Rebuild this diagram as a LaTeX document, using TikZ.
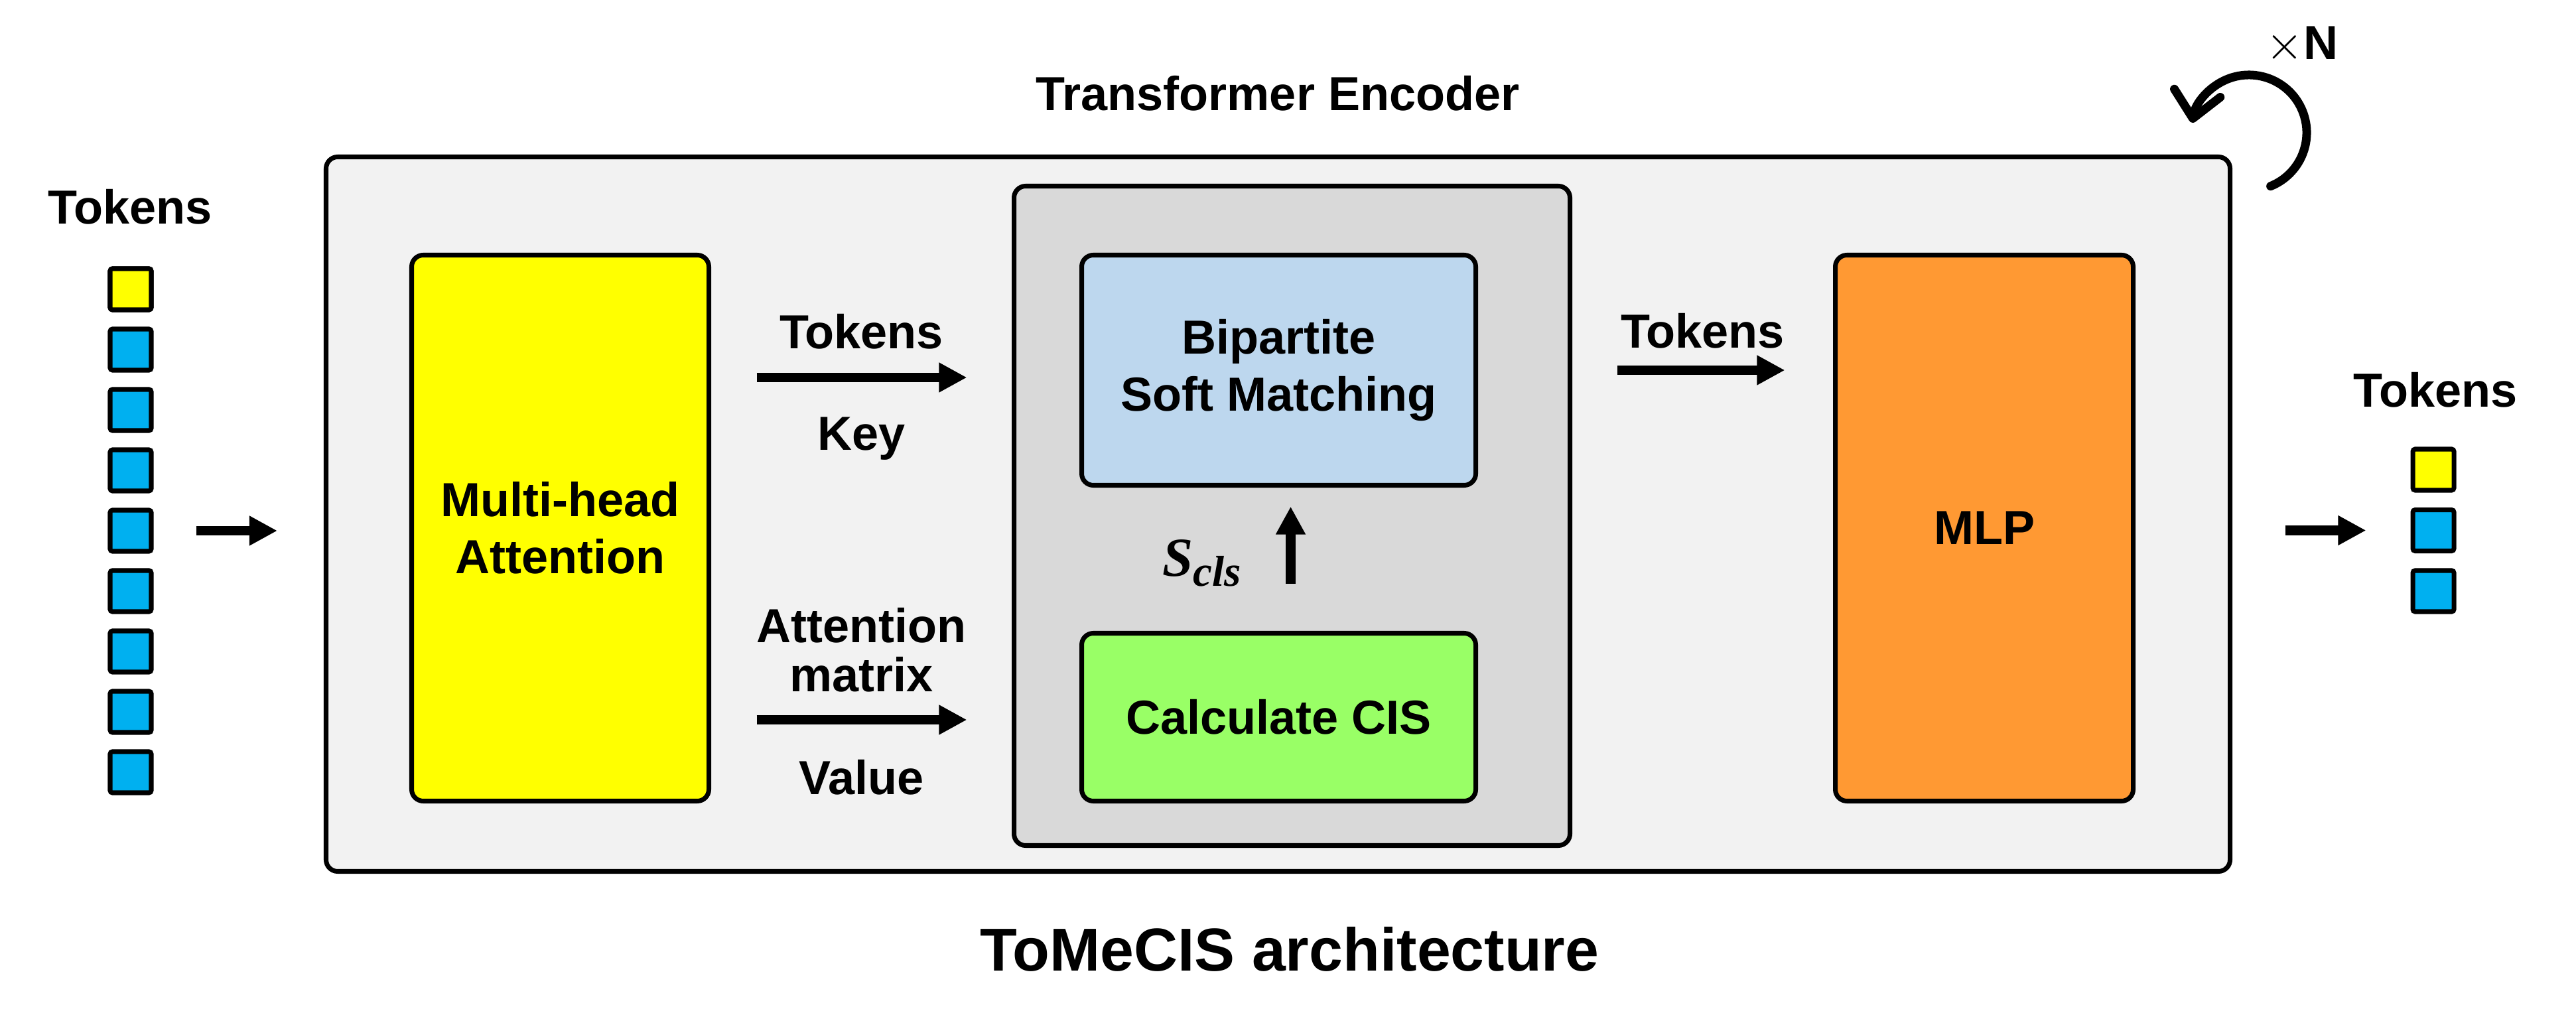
\documentclass[tikz,border=0pt]{standalone}
\usepackage{fontspec}
\setmainfont{Liberation Sans}
\newfontfamily\symbfont{Liberation Serif}
\usepackage{tikz}
\usetikzlibrary{arrows.meta,positioning,calc}
\definecolor{encfill}{HTML}{F2F2F2}
\definecolor{mergefill}{HTML}{D9D9D9}
\definecolor{attnfill}{HTML}{FFFF00}
\definecolor{matchfill}{HTML}{BDD7EE}
\definecolor{cisfill}{HTML}{99FF66}
\definecolor{mlpfill}{HTML}{FF9933}
\definecolor{tokfill}{HTML}{00B0F0}

\begin{document}
\begin{tikzpicture}[>={Triangle[length=12pt,width=12pt]},
  txt/.style={font=\fontsize{20.5}{24.6}\selectfont\bfseries,align=center},
  lbl/.style={txt,inner sep=0pt},
  blk/.style={draw=black,line width=2pt,rounded corners=5pt,txt,inner sep=0pt},
  tok/.style={draw=black,line width=2pt,rounded corners=1pt,minimum size=6.2mm,inner sep=0pt},
  arr/.style={->,line width=4pt}]
 \useasboundingbox (0,0) rectangle (38.83,15.38);
 % encoder frame and its blocks
 \node[blk,fill=encfill,minimum width=28.70cm,minimum height=10.77cm] (enc) at (19.265,7.63) {};
 \node[txt] at (19.26,13.97) {Transformer Encoder};
 \node[blk,fill=attnfill,minimum width=4.48cm,minimum height=8.23cm] (mha) at (8.445,7.42) {Multi-head\\Attention};
 \node[blk,fill=mergefill,minimum width=8.38cm,minimum height=9.94cm] (merge) at (19.475,7.605) {};
 \node[blk,fill=matchfill,minimum width=5.94cm,minimum height=3.47cm] (bsm) at (19.275,9.80) {Bipartite\\Soft Matching};
 \node[blk,fill=cisfill,minimum width=5.94cm,minimum height=2.53cm] (cis) at (19.275,4.57) {Calculate CIS};
 \node[blk,fill=mlpfill,minimum width=4.49cm,minimum height=8.23cm] (mlp) at (29.91,7.42) {MLP};
 % input and output tokens
 \node[txt] at (1.96,12.26) {Tokens};
 \foreach \i in {1,...,9} {
  \node[tok,fill=tokfill] (t\i) at (1.97,{11.02-0.91*(\i-1)}) {};
 }
 \node[tok,fill=attnfill] at (t1) {};
 \node[txt] at (36.71,9.50) {Tokens};
 \node[tok,fill=attnfill] (o1) at (36.68,8.30) {};
 \node[tok,fill=tokfill] (o2) at (36.68,7.385) {};
 \node[tok,fill=tokfill] (o3) at (36.68,6.47) {};
 % connectors
 \draw[arr,shorten <=6.4mm,shorten >=7mm] (t5.east) -- (enc.west |- t5);
 \draw[arr,shorten <=6.85mm,shorten >=6.75mm] ($(mha.east |- bsm.west)+(0,-0.11)$) --
   node[lbl,above=3.6mm]{Tokens} node[lbl,below=5.3mm]{Key} ($(merge.west |- bsm.west)+(0,-0.11)$);
 \draw[arr,shorten <=6.85mm,shorten >=6.75mm] ($(mha.east |- cis.west)+(0,-0.04)$) --
   node[lbl,above=3.5mm,font=\fontsize{20.5}{21}\selectfont\bfseries]{Attention\\matrix} node[lbl,below=5.3mm]{Value} ($(merge.west |- cis.west)+(0,-0.04)$);
 \draw[arr,shorten <=6.75mm,shorten >=7.25mm] (merge.east |- bsm.east) --
   node[lbl,above=2.6mm]{Tokens} (mlp.west |- bsm.east);
 \draw[arr,shorten <=7.05mm,shorten >=2.85mm] ($(cis.north)+(0.18,0)$) -- ($(bsm.south)+(0.18,0)$);
 \node[font=\symbfont\bfseries\itshape\fontsize{23.6}{28}\selectfont] (scls) at (18.12,6.89)
   {S\raisebox{-4.3pt}{\fontsize{18.5}{22}\selectfont cls}};
 \draw[arr,shorten <=7.95mm,shorten >=6.7mm] (enc.east |- o2) -- (o2.west);
 % repeat loop
 \coordinate (loop) at (33.90,13.38);
 \draw[line width=3.7pt,line cap=round,-{Straight Barb[length=11pt,width=20pt,round]}]
   ([shift={(-68:0.87)}]loop) arc[start angle=-68,end angle=170,radius=0.87];
 \node[txt] at (34.70,14.70) {$\times$N};
 \node[font=\fontsize{26}{30}\selectfont\bfseries] at (19.44,1.07) {ToMeCIS architecture};
\end{tikzpicture}
\end{document}
